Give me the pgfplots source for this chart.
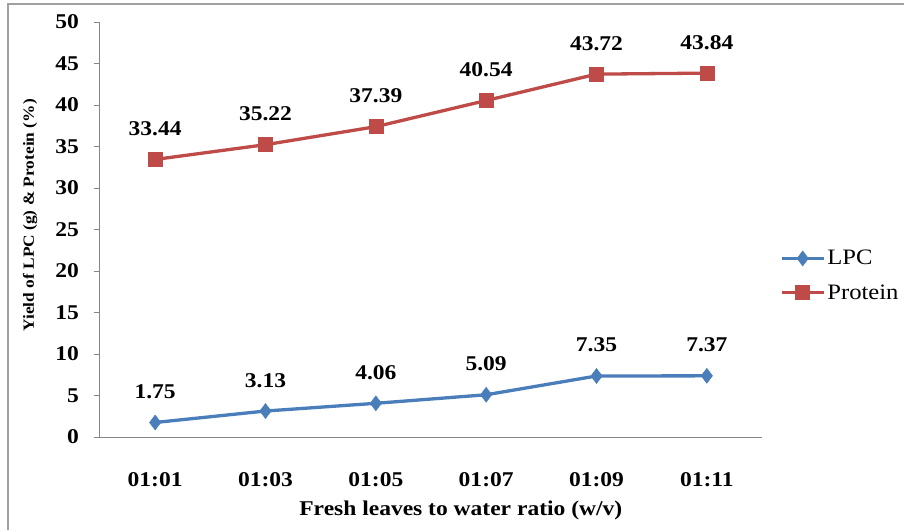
\documentclass[border=0pt]{standalone}
\usepackage{pgfplots}
\pgfplotsset{compat=1.18}
\usepackage{fontspec}
\setmainfont{Liberation Serif}[FakeStretch=1.12]
\definecolor{lpcblue}{RGB}{74,126,187}
\definecolor{protred}{RGB}{190,75,72}
\definecolor{axgray}{RGB}{134,134,134}
\definecolor{framegray}{RGB}{160,160,160}
\begin{document}
\begin{tikzpicture}
\path[use as bounding box] (-100pt,-93pt) rectangle (804pt,437pt);
\draw[framegray, line width=1.5pt] (-92pt,-93pt) -- (-92pt,433pt) -- (804pt,433pt);
\begin{axis}[
  at={(0pt,0pt)}, anchor=south west,
  scale only axis, width=662pt, height=415pt,
  xmin=-0.5, xmax=5.5, ymin=0, ymax=50,
  ytick distance=5,
  xtick={0,1,2,3,4,5},
  xticklabels={01:01,01:03,01:05,01:07,01:09,01:11},
  axis x line*=bottom, axis y line*=left,
  axis line style={axgray, line width=1pt, -},
  tick align=outside,
  major tick length=6pt,
  ytick style={axgray, line width=1pt},
  xtick style={draw=none},
  /pgf/number format/assume math mode=true,
  tick label style={font=\fontsize{21}{24}\selectfont\bfseries},
  yticklabel style={anchor=east, inner sep=0pt, xshift=-15pt},
  xticklabel style={anchor=north, inner sep=0pt, yshift=-29pt},
  xlabel={Fresh leaves to water ratio (w/v)},
  ylabel={Yield of LPC (g) \& Protein (\%)},
  xlabel style={font=\fontsize{21}{24}\selectfont\bfseries, at={(axis description cs:0.545,0)}, anchor=base, yshift=-78pt, inner sep=0pt},
  ylabel style={font=\fontsize{15.5}{18}\selectfont\bfseries, at={(axis description cs:-0.1057,0.534)}, anchor=center, inner sep=0pt},
  point meta=explicit symbolic,
  nodes near coords,
  every node near coord/.append style={font=\fontsize{21}{24}\selectfont\bfseries, anchor=base, inner sep=0pt, yshift=24pt, black},
  legend style={draw=none, fill=none, at={(axis description cs:1.027,0.455)}, anchor=north west, font=\fontsize{22}{25}\selectfont, row sep=14pt, inner sep=0pt, cells={anchor=west}},
  legend image code/.code={\draw[mark repeat=2,mark phase=2] plot coordinates {(0pt,0pt) (21pt,0pt) (42pt,0pt)};},
  clip=false,
]
\addplot[lpcblue, line width=3.3pt, mark=diamond*, mark size=7.5pt, mark options={solid, line width=0.5pt, fill=lpcblue}]
  coordinates {(0,1.75)[1.75] (1,3.13)[3.13] (2,4.06)[4.06] (3,5.09)[5.09] (4,7.35)[7.35] (5,7.37)[7.37]};
\addlegendentry{LPC}
\addplot[protred, line width=3.3pt, mark=square*, mark size=7pt, mark options={solid, line width=0.5pt, fill=protred}]
  coordinates {(0,33.44)[33.44] (1,35.22)[35.22] (2,37.39)[37.39] (3,40.54)[40.54] (4,43.72)[43.72] (5,43.84)[43.84]};
\addlegendentry{Protein}
\end{axis}
\end{tikzpicture}
\end{document}
